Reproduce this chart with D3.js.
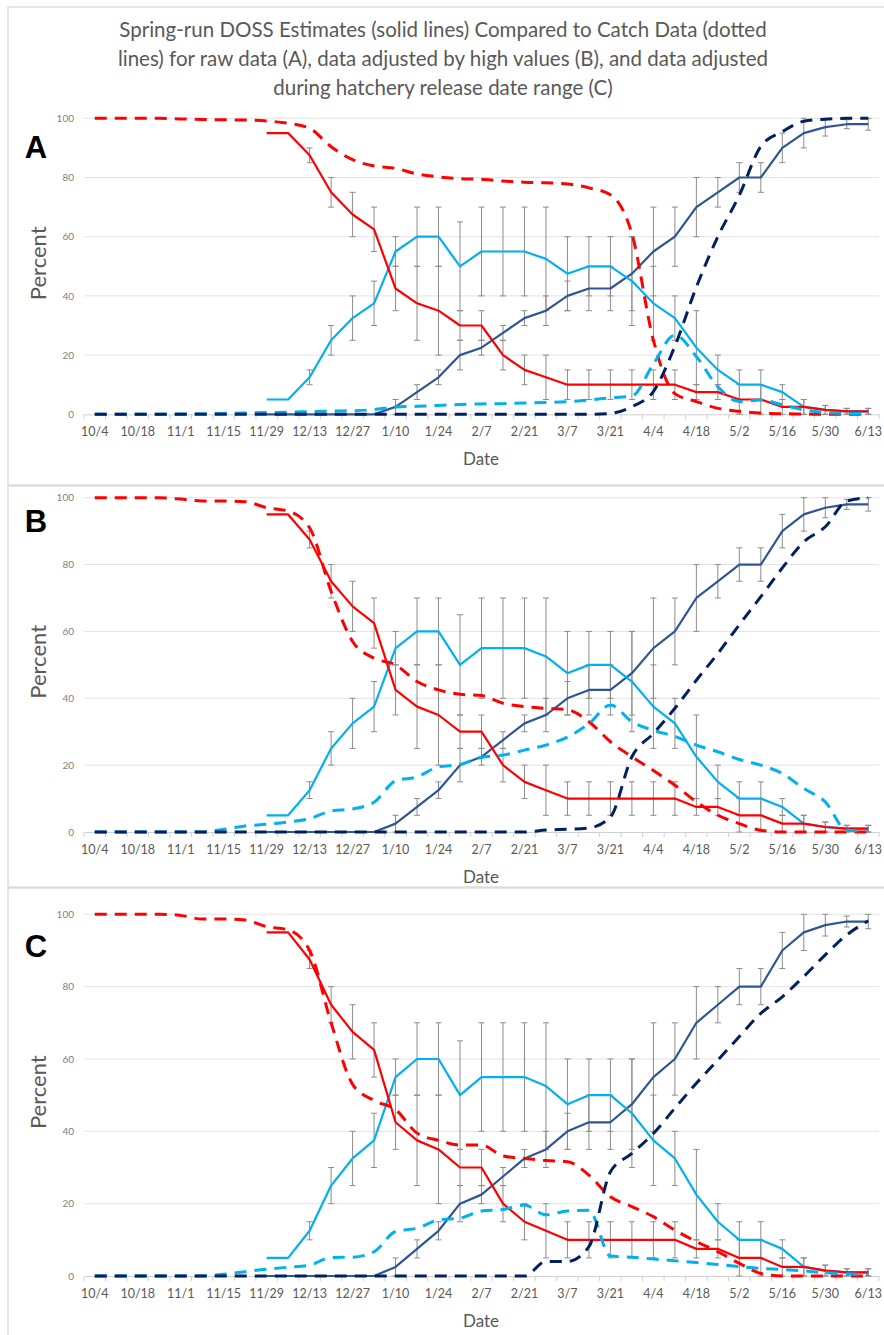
<!DOCTYPE html>
<html><head><meta charset="utf-8">
<script src="https://cdn.jsdelivr.net/npm/d3@7"></script>
<style>body{margin:0;background:#fff;} svg{display:block;}</style>
</head><body>
<svg id="chart" width="884" height="1335"></svg>
<script>
// ---------- DATA ----------
const dates = ["10/4","10/11","10/18","10/25","11/1","11/8","11/15","11/22","11/29","12/6",
  "12/13","12/20","12/27","1/3","1/10","1/17","1/24","1/31","2/7","2/14",
  "2/21","2/28","3/7","3/14","3/21","3/28","4/4","4/11","4/18","4/25",
  "5/2","5/9","5/16","5/23","5/30","6/6","6/13"];
const tickLabels = ["10/4","10/18","11/1","11/15","11/29","12/13","12/27","1/10","1/24","2/7",
  "2/21","3/7","3/21","4/4","4/18","5/2","5/16","5/30","6/13"];
const yTicks = [0, 20, 40, 60, 80, 100];

const N8 = [null,null,null,null,null,null,null,null];
// DOSS estimates (solid lines) - identical in all panels
const dossRed    = N8.concat([95,95,87.5,75,67.5,62.5,42.5,37.5,35,30, 30,20,15,12.5,10,10,10,10,10,10, 7.5,7.5,5,5,2.5,2.5,1.5,1,1]);
const dossRedErr = N8.concat([0,0,2.5,5,7.5,7.5,7.5,12.5,15,5, 5,5,5,7.5,5,5,5,5,5,5, 2.5,2.5,5,5,2.5,2.5,1.5,1,1]);
const dossLB     = N8.concat([5,5,12.5,25,32.5,37.5,55,60,60,50, 55,55,55,52.5,47.5,50,50,45,37.5,32.5, 22.5,15,10,10,7.5,2.5,1.5,1,1]);
const dossLBErr  = N8.concat([0,0,2.5,5,7.5,7.5,5,10,10,15, 15,15,15,17.5,12.5,10,10,15,12.5,7.5, 12.5,5,5,5,2.5,2.5,1.5,1,1]);
const dossDB     = N8.concat([0,0,0,0,0,0,2.5,7.5,12.5,20, 22.5,27.5,32.5,35,40,42.5,42.5,47.5,55,60, 70,75,80,80,90,95,97,98,98]);
const dossDBErr  = N8.concat([0,0,0,0,0,0,2.5,2.5,2.5,5, 2.5,2.5,2.5,5,5,7.5,7.5,12.5,15,10, 10,5,5,5,5,5,3,1.5,2]);

// Catch data (dashed lines)
const catchRedA  = [100,100,100,100,99.8,99.6,99.5,99.4,99.1,98.3, 96.6,90.4,86,83.9,83.1,81.2,80.2,79.6,79.4,78.8, 78.4,78.2,77.8,76.5,74.2,61,25,7,4.3,2, 1,0.4,0.2,0.1,0,0,0];
const catchLBA   = [0,0,0,0,0.1,0.2,0.3,0.4,0.6,0.7, 0.9,1.1,1.2,1.6,2.5,2.7,3,3.3,3.5,3.6, 3.8,4,4.3,4.8,5.6,6.2,17,26.8,19.5,9.3, 4.3,4.8,3.2,1.5,0.6,0.3,0.3];
const catchNavyA = [0,0,0,0,0,0,0,0,0,0, 0,0,0,0,0,0,0,0,0,0, 0,0,0,0,0.3,2.6,7.7,23,43,60, 74,90.5,95.5,99,99.7,100,100];

const catchRedB  = [100,100,100,100,99.6,99,99,98.8,97,96, 91,72,57,52,50,45,42.5,41.2,40.8,38.5, 37.5,37,36.6,33,27,22.5,18.4,14,9,5, 2.5,0.5,0,0,0,0,0];
const catchLBB   = [0,0,0,0,0,0,0.8,1.8,2.3,3, 4,6.3,6.9,8.9,15.3,16.5,19.5,20.2,22.3,23, 24.5,26,28.4,32.4,38,33,30.4,28.6,26,24, 21.7,20,17.5,13,9,0.5,0.3];
const catchNavyB = [0,0,0,0,0,0,0,0,0,0, 0,0,0,0,0,0,0,0,0,0, 0,0.6,0.8,1.2,4.5,22.5,29.5,37,45.4,53.4, 62,70.4,79,86.8,91.3,99,100];

const catchRedC  = [100,100,100,100,99.7,98.7,98.7,98.4,96.6,95.7, 90,70,53,48.5,46,39.5,37.5,36.2,36.2,33.2, 32.5,31.9,31.6,27.9,21.9,19.2,16.4,12.7,9.5,6.7, 3.5,0.7,0,0,0,0,0];
const catchLBC   = [0,0,0,0,0,0,0.5,1.2,1.9,2.4, 3,5.1,5.2,6.7,12.3,13.2,15.5,16,18,18.4, 19.6,16.9,18,18.2,5.5,5.2,4.7,4.2,3.7,3.2, 2.6,2.1,1.8,1.4,0.9,0.6,0.4];
const catchNavyC = [0,0,0,0,0,0,0,0,0,0, 0,0,0,0,0,0,0,0,0,0, 0,4,4,8.1,28.8,33.9,39.4,46.4,53.3,59.7, 66.2,72.6,77.2,82.8,88.8,94.3,98.2];

const panelLetters = ["A", "B", "C"];
const titleLines = [
  "Spring-run DOSS Estimates (solid lines) Compared to Catch Data (dotted",
  "lines) for raw data (A), data adjusted by high values (B), and data adjusted",
  "during hatchery release date range (C)"
];

// ---------- LAYOUT ----------
const W = 884, H = 1335;
const FONT = "Lato, 'Open Sans', sans-serif";
const COL = {red: "#FF0000", lb: "#00B0F0", db: "#2F5597", navy: "#002060", grid: "#E3E3E3", axis: "#D0D0D0", err: "#8C8C8C", text: "#595959", ytext: "#808080"};
const panels = [
  {top: 7,   bottom: 485,  y100: 118.3, y0: 414.3, letterY: 158, catchRed: catchRedA, catchLB: catchLBA, catchNavy: catchNavyA},
  {top: 486, bottom: 887,  y100: 497.7, y0: 832,   letterY: 532, catchRed: catchRedB, catchLB: catchLBB, catchNavy: catchNavyB},
  {top: 888, bottom: 1340, y100: 914.3, y0: 1276,  letterY: 957, catchRed: catchRedC, catchLB: catchLBC, catchNavy: catchNavyC}
];

const svg = d3.select("#chart");
svg.append("rect").attr("width", W).attr("height", H).attr("fill", "#fff");

const x = d3.scaleBand().domain(dates).range([84, 879]).paddingInner(0).paddingOuter(0);
const cx = d => x(d) + x.bandwidth() / 2;

panels.forEach((p, pi) => {
  const g = svg.append("g");
  // panel frame
  g.append("rect").attr("x", 8).attr("y", p.top).attr("width", W - 8 + 2).attr("height", p.bottom - p.top)
    .attr("fill", "none").attr("stroke", "#D9D9D9").attr("stroke-width", 1.3);

  const y = d3.scaleLinear().domain([0, 100]).range([p.y0, p.y100]);

  // gridlines
  g.append("g").selectAll("line").data(yTicks.filter(t => t > 0)).join("line")
    .attr("x1", 84).attr("x2", 879).attr("y1", d => y(d)).attr("y2", d => y(d))
    .attr("stroke", COL.grid).attr("stroke-width", 1);

  // y axis labels
  const ya = d3.axisLeft(y).tickValues(yTicks).tickSize(0).tickPadding(10);
  const yg = g.append("g").attr("transform", "translate(84,0)").call(ya);
  yg.select(".domain").remove();
  yg.selectAll("text").attr("font-family", FONT).attr("font-size", 10).attr("fill", COL.ytext);

  // x axis
  const xa = d3.axisBottom(x).tickValues(tickLabels).tickSize(0).tickPadding(13);
  const xg = g.append("g").attr("transform", `translate(0,${p.y0})`).call(xa);
  xg.select(".domain").attr("stroke", COL.axis);
  xg.selectAll("text").attr("font-family", FONT).attr("font-size", 12.5).attr("fill", COL.text);
  // category boundary tick marks
  g.append("g").selectAll("line").data(dates.concat(["end"])).join("line")
    .attr("x1", (d, i) => 84 + i * x.bandwidth()).attr("x2", (d, i) => 84 + i * x.bandwidth())
    .attr("y1", p.y0).attr("y2", p.y0 + 5).attr("stroke", COL.axis).attr("stroke-width", 1);

  // axis titles
  g.append("text").attr("x", 481).attr("y", p.y0 + 51).attr("text-anchor", "middle")
    .attr("font-family", FONT).attr("font-size", 17).attr("fill", COL.text).text("Date");
  g.append("text").attr("transform", `translate(46,${(p.y0 + p.y100) / 2 - 3}) rotate(-90)`)
    .attr("text-anchor", "middle").attr("font-family", FONT).attr("font-size", 22).attr("fill", COL.text).text("Percent");
  g.append("text").attr("x", 36).attr("y", p.letterY).attr("text-anchor", "middle")
    .attr("font-family", "'Liberation Sans', Arial, sans-serif").attr("font-weight", "bold")
    .attr("font-size", 31).attr("fill", "#000").text(panelLetters[pi]);

  // error bars
  const errSets = [[dossRed, dossRedErr], [dossLB, dossLBErr], [dossDB, dossDBErr]];
  const eb = g.append("g").attr("stroke", COL.err).attr("stroke-width", 1).attr("fill", "none");
  errSets.forEach(([vals, errs]) => {
    dates.forEach((d, i) => {
      if (vals[i] == null || !errs[i]) return;
      const lo = y(vals[i] - errs[i]), hi = y(vals[i] + errs[i]), xc = cx(d);
      eb.append("line").attr("x1", xc).attr("x2", xc).attr("y1", lo).attr("y2", hi);
      eb.append("line").attr("x1", xc - 3).attr("x2", xc + 3).attr("y1", lo).attr("y2", lo);
      eb.append("line").attr("x1", xc - 3).attr("x2", xc + 3).attr("y1", hi).attr("y2", hi);
    });
  });

  // solid lines
  const solid = d3.line().defined(d => d[1] != null).x(d => cx(d[0])).y(d => y(d[1]));
  [[dossDB, COL.db], [dossLB, COL.lb], [dossRed, COL.red]].forEach(([vals, c]) => {
    g.append("path").datum(dates.map((d, i) => [d, vals[i]]))
      .attr("d", solid).attr("fill", "none").attr("stroke", c).attr("stroke-width", 2.2)
      .attr("stroke-linejoin", "round");
  });

  // dashed lines (navy drawn last, on top)
  const dashed = d3.line().x(d => cx(d[0])).y(d => y(d[1])).curve(d3.curveMonotoneX);
  [[p.catchRed, COL.red], [p.catchLB, COL.lb], [p.catchNavy, COL.navy]].forEach(([vals, c]) => {
    g.append("path").datum(dates.map((d, i) => [d, vals[i]]))
      .attr("d", dashed).attr("fill", "none").attr("stroke", c).attr("stroke-width", 3)
      .attr("stroke-dasharray", "12,8");
  });
});

// title
svg.append("g").selectAll("text").data(titleLines).join("text")
  .attr("x", 443).attr("y", (d, i) => 37 + i * 29).attr("text-anchor", "middle")
  .attr("font-family", FONT).attr("font-size", 20.5).attr("fill", COL.text).text(d => d);
</script>
</body></html>
